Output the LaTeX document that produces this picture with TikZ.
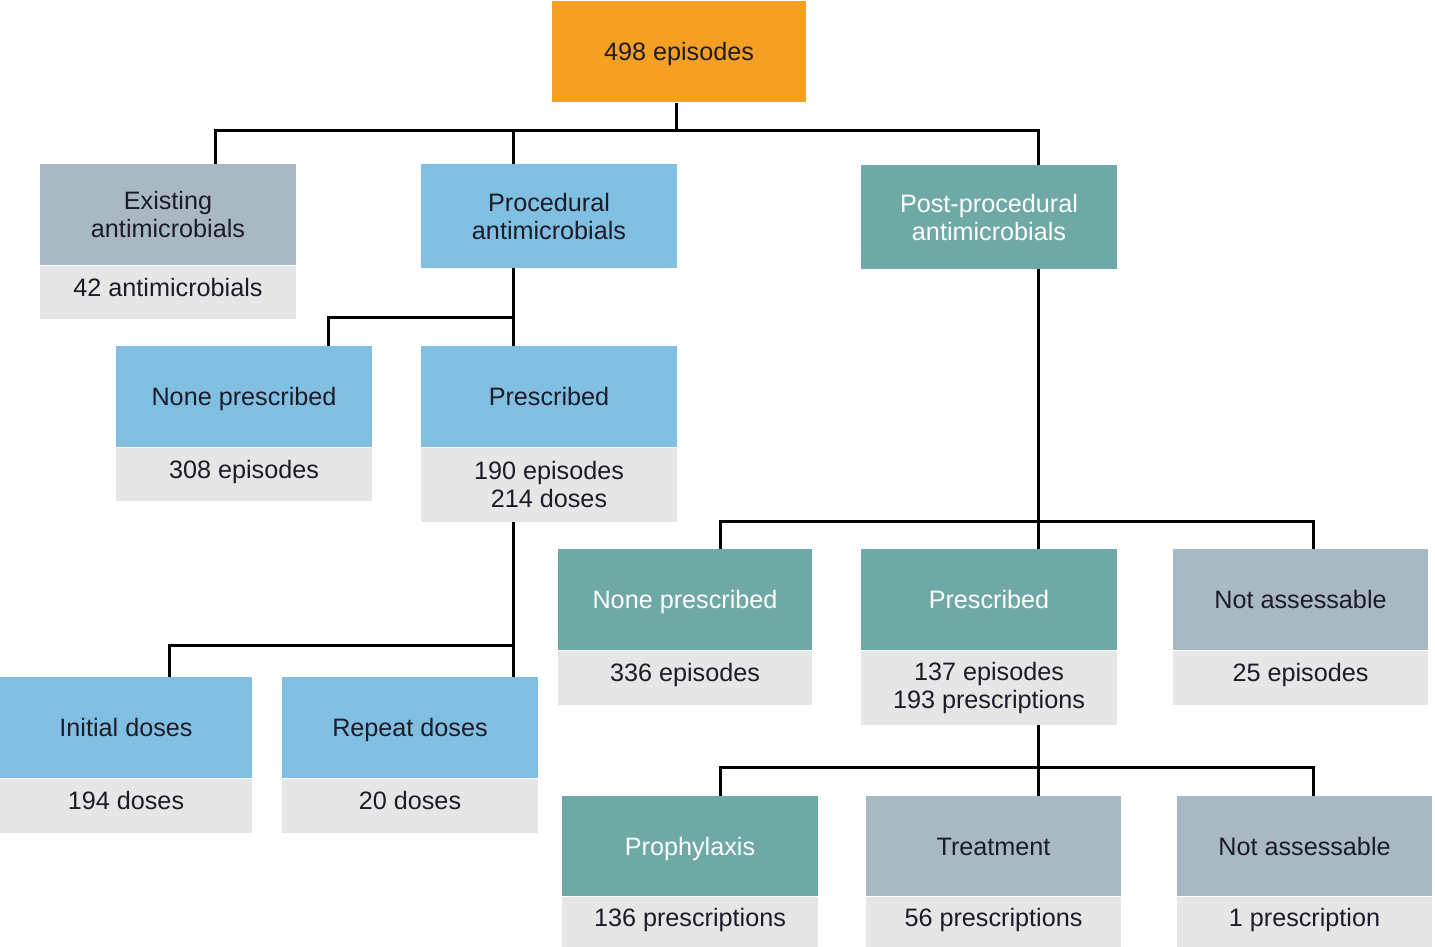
\documentclass[tikz,border=0pt]{standalone}
\usepackage{fontspec}
\setmainfont{Liberation Sans}
\usepackage{xcolor}
\usepackage{tikz}
\usetikzlibrary{positioning,calc}
\definecolor{hdorange}{RGB}{245,160,34}
\definecolor{hdblue}{RGB}{128,191,226}
\definecolor{hdteal}{RGB}{111,169,166}
\definecolor{hdgray}{RGB}{169,185,195}
\definecolor{subgray}{RGB}{230,230,230}
\definecolor{textdark}{RGB}{28,28,40}
\newcommand{\boxfont}{\fontsize{12.6}{14}\selectfont}
\tikzset{
  hdrbox/.style={
    rectangle,
    minimum width=128pt,
    minimum height=50.5pt,
    inner sep=0pt,
    align=center,
    font=\boxfont,
    text=textdark
  },
  hdrorange/.style={hdrbox, fill=hdorange},
  hdrblue/.style={hdrbox, fill=hdblue},
  hdrteal/.style={hdrbox, fill=hdteal, text=white},
  hdrgray/.style={hdrbox, fill=hdgray},
  countbox/.style={
    rectangle,
    minimum width=128pt,
    minimum height=26.5pt,
    inner sep=0pt,
    align=center,
    font=\boxfont,
    fill=subgray,
    text=textdark
  },
  hdrline/.style={text height=9pt, text depth=0pt},
  countline/.style={text height=9pt, text depth=5pt},
  link/.style={line width=1.5pt, black}
}

\begin{document}
\begin{tikzpicture}[x=0.5pt,y=-0.5pt]
\useasboundingbox (0,0) rectangle (1435,947);
% top level
\node[hdrorange, hdrline, minimum width=127pt] (ep) at (679,52) {498 episodes};
\node[hdrgray] (ex) at (168,214.5) {Existing\\antimicrobials};
\node[countbox, countline, below=0pt of ex] (exs) {42 antimicrobials};
\node[hdrblue, minimum height=52pt] (proc) at (549,216) {Procedural\\antimicrobials};
\node[hdrteal, minimum height=51.5pt] (post) at (989,217) {Post-procedural\\antimicrobials};
% procedural branch
\node[hdrblue, hdrline] (np1) at (244,396.5) {None prescribed};
\node[countbox, countline, below=0pt of np1] (np1s) {308 episodes};
\node[hdrblue, hdrline] (pr1) at (549,396.5) {Prescribed};
\node[countbox, below=0pt of pr1, minimum height=37pt] (pr1s) {190 episodes\\214 doses};
\node[hdrblue, hdrline, minimum width=126pt] (ini) at (126,727.5) {Initial doses};
\node[countbox, countline, below=0pt of ini, minimum width=126pt, minimum height=27pt] (inis) {194 doses};
\node[hdrblue, hdrline] (rep) at (410,727.5) {Repeat doses};
\node[countbox, countline, below=0pt of rep, minimum height=27pt] (reps) {20 doses};
% post-procedural branch
\node[hdrteal, hdrline, minimum width=127pt] (np2) at (685,599.5) {None prescribed};
\node[countbox, countline, below=0pt of np2, minimum width=127pt, minimum height=27pt] (np2s) {336 episodes};
\node[hdrteal, hdrline] (pr2) at (989,599.5) {Prescribed};
\node[countbox, below=0pt of pr2, minimum height=37pt] (pr2s) {137 episodes\\193 prescriptions};
\node[hdrgray, hdrline, minimum width=127.5pt] (na1) at (1300.5,599.5) {Not assessable};
\node[countbox, countline, below=0pt of na1, minimum width=127.5pt, minimum height=27pt] (na1s) {25 episodes};
\node[hdrteal, hdrline, minimum height=50pt] (pro) at (690,846) {Prophylaxis};
\node[countbox, countline, below=0pt of pro, minimum height=25.5pt] (pros) {136 prescriptions};
\node[hdrgray, hdrline, minimum width=127.5pt, minimum height=50pt] (trt) at (993.5,846) {Treatment};
\node[countbox, countline, below=0pt of trt, minimum width=127.5pt, minimum height=25.5pt] (trts) {56 prescriptions};
\node[hdrgray, hdrline, minimum width=127.5pt, minimum height=50pt] (na2) at (1304.5,846) {Not assessable};
\node[countbox, countline, below=0pt of na2, minimum width=127.5pt, minimum height=25.5pt] (na2s) {1 prescription};
% connectors
\coordinate (bus1) at (676,131);
\coordinate (bus2) at (513,317);
\coordinate (bus3) at (513,645);
\coordinate (bus4) at (1038,521);
\coordinate (bus5) at (1038,767);
\draw[link] ([xshift=-1.5pt]ep.south) -- (bus1);
\draw[link] ([xshift=23.5pt]ex.north) |- (bus1) -| ([xshift=24.5pt]post.north);
\draw[link] ([xshift=-18pt]proc.north) -- (bus1 -| bus2);
\draw[link] ([xshift=-18pt]proc.south) -- ([xshift=-18pt]pr1.north);
\draw[link] ([xshift=42pt]np1.north) |- (bus2);
\draw[link] ([xshift=-18pt]pr1s.south) -- ([xshift=51.5pt]rep.north);
\draw[link] ([xshift=21.5pt]ini.north) |- (bus3);
\draw[link] ([xshift=24.5pt]post.south) -- ([xshift=24.5pt]pr2.north);
\draw[link] ([xshift=17.5pt]np2.north) |- (bus4) -| ([xshift=6.25pt]na1.north);
\draw[link] ([xshift=24.5pt]pr2s.south) -- ([xshift=22.25pt]trt.north);
\draw[link] ([xshift=15pt]pro.north) |- (bus5) -| ([xshift=4.25pt]na2.north);
\end{tikzpicture}
\end{document}
